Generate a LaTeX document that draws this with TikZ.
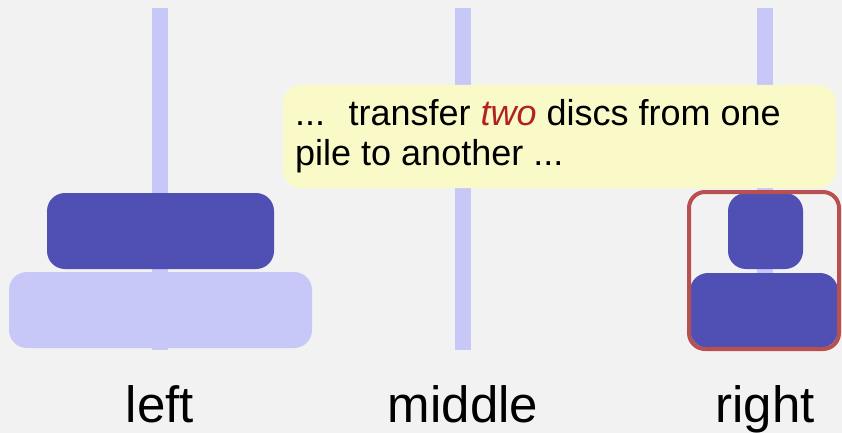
\documentclass[tikz,border=0pt]{standalone}
\usepackage{fontspec}
\setmainfont{Liberation Sans}
\definecolor{bgc}{HTML}{F2F2F2}
\definecolor{polec}{HTML}{C8C8F8}
\definecolor{darkdisc}{HTML}{5050B4}
\definecolor{calloutc}{HTML}{FAFAC8}
\definecolor{boxred}{HTML}{B85050}
\definecolor{twored}{HTML}{B22222}
\tikzset{
  pole/.style={fill=polec, draw=none, inner sep=0pt, minimum width=16pt, minimum height=342pt},
  discdark/.style={fill=darkdisc, draw=none, inner sep=0pt, rounded corners=18pt},
  disclight/.style={fill=polec, draw=none, inner sep=0pt, rounded corners=18pt},
  callout/.style={fill=calloutc, draw=none, inner sep=0pt, rounded corners=18pt, minimum width=553pt, minimum height=103pt},
  selbox/.style={draw=boxred, line width=4pt, inner sep=0pt, rounded corners=16pt, minimum width=150pt, minimum height=157pt},
  pilelabel/.style={font=\fontsize{51}{60}\selectfont, anchor=base, inner sep=0pt}
}
\begin{document}
\begin{tikzpicture}[x=1pt,y=-1pt]
\fill[bgc] (0,0) rectangle (842,433);
\useasboundingbox (0,0) rectangle (842,433);
% poles
\node[pole] (pL) at (160,179) {};
\node[pole] (pM) at (463,179) {};
\node[pole] (pR) at (765,179) {};
% left pile
\node[disclight, minimum width=303pt, minimum height=76pt] (L2) at (160.5,310) {};
\node[discdark, minimum width=227pt, minimum height=76pt] (L1) at (160.5,231) {};
% right pile
\node[discdark, minimum width=148pt, minimum height=75pt] (R2) at (764,310.5) {};
\node[discdark, minimum width=75pt, minimum height=76pt] (R1) at (765.5,231) {};
\node[selbox] (sel) at (764,270.5) {};
% callout
\node[callout] (co) at (559.5,136.5) {};
\node[anchor=north west, inner sep=0pt, align=left, font=\fontsize{36}{39.5}\selectfont] (txt) at (295,99.5)
  {...~ transfer \textcolor{twored}{\itshape two} discs from one\\pile to another ...};
% labels
\node[pilelabel] (lL) at (160,422) {left};
\node[pilelabel] (lM) at (463,422) {middle};
\node[pilelabel] (lR) at (765,422) {right};
\end{tikzpicture}
\end{document}
